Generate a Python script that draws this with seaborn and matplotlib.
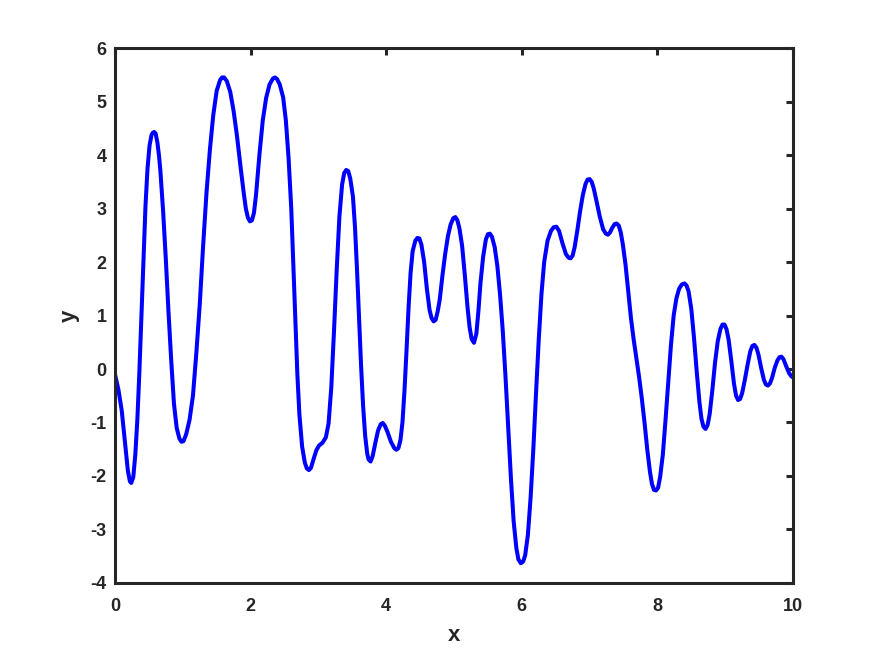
import matplotlib
matplotlib.use("Agg")
import matplotlib.pyplot as plt
import seaborn as sns
import pandas as pd

# Values
x_vals = [
    0.00, 0.05, 0.10, 0.15, 0.19, 0.22, 0.24, 0.27, 0.30, 0.33, 0.36, 0.39, 0.42, 0.45, 0.48,
    0.51, 0.54, 0.56, 0.58, 0.60, 0.625, 0.65, 0.67, 0.71, 0.75, 0.79, 0.83, 0.87, 0.91, 0.95,
    0.98, 1.01, 1.05,
    1.10, 1.15, 1.20, 1.25, 1.30, 1.35, 1.40, 1.45, 1.50, 1.55, 1.58, 1.61, 1.65, 1.70, 1.75,
    1.80, 1.85, 1.90, 1.93, 1.96, 1.99, 2.02, 2.05,
    2.08, 2.13, 2.18, 2.23, 2.28, 2.33, 2.36, 2.39, 2.43, 2.48, 2.52, 2.56, 2.60, 2.63, 2.66,
    2.69, 2.72, 2.76, 2.80, 2.83, 2.86, 2.89, 2.93, 2.97, 3.01, 3.06, 3.11, 3.15, 3.19, 3.23,
    3.27, 3.31, 3.35, 3.38, 3.41, 3.44, 3.47, 3.51, 3.54, 3.57, 3.60, 3.63, 3.66, 3.69, 3.72,
    3.74, 3.77, 3.80, 3.84, 3.88, 3.92, 3.95, 3.98,
    4.02, 4.07, 4.12, 4.15, 4.18, 4.21, 4.24, 4.27, 4.30, 4.33, 4.36, 4.39, 4.43, 4.46, 4.49,
    4.52, 4.56, 4.60, 4.64, 4.67, 4.70, 4.73, 4.76, 4.79, 4.83, 4.87, 4.91, 4.95, 4.99, 5.02,
    5.05, 5.08, 5.12, 5.16, 5.20, 5.23, 5.26, 5.295, 5.33, 5.36, 5.39, 5.43, 5.47, 5.50, 5.53,
    5.56, 5.60, 5.64, 5.68, 5.72, 5.76, 5.80, 5.84, 5.88, 5.92, 5.95, 5.985, 6.02, 6.05,
    6.09, 6.13, 6.17, 6.21, 6.25, 6.29, 6.33, 6.38, 6.43, 6.47, 6.51, 6.55, 6.60, 6.65, 6.69,
    6.72, 6.75, 6.78, 6.82, 6.86, 6.90, 6.94, 6.97, 7.00, 7.03, 7.06, 7.10, 7.15, 7.20, 7.24,
    7.27, 7.30, 7.33, 7.37, 7.40, 7.43, 7.46, 7.49, 7.53, 7.57, 7.61, 7.65, 7.69, 7.73, 7.77,
    7.81, 7.85, 7.89, 7.92, 7.95, 7.98, 8.01, 8.04,
    8.08, 8.12, 8.16, 8.20, 8.24, 8.28, 8.32, 8.36, 8.40, 8.43, 8.46, 8.50, 8.54, 8.58, 8.62,
    8.65, 8.68, 8.71, 8.74, 8.77, 8.81, 8.85, 8.89, 8.93, 8.96, 8.99, 9.02, 9.05, 9.09, 9.13,
    9.16, 9.19, 9.22, 9.25, 9.29, 9.33, 9.37, 9.40, 9.43, 9.46, 9.49, 9.53, 9.57, 9.60, 9.63,
    9.66, 9.69, 9.73, 9.77, 9.80, 9.83, 9.86, 9.90, 9.94, 9.97, 10.00,
]
y_vals = [
    -0.10, -0.38, -0.78, -1.40, -1.90, -2.10, -2.13, -2.02, -1.60, -0.95, -0.05, 1.00, 2.10, 3.05, 3.75,
    4.18, 4.38, 4.42, 4.43, 4.40, 4.24, 3.98, 3.70, 2.95, 2.05, 1.05, 0.15, -0.65, -1.10, -1.30,
    -1.36, -1.35, -1.22,
    -0.95, -0.50, 0.30, 1.20, 2.30, 3.30, 4.10, 4.75, 5.20, 5.40, 5.45, 5.45, 5.38, 5.18, 4.82,
    4.35, 3.80, 3.28, 3.00, 2.83, 2.76, 2.78, 2.92,
    3.25, 4.00, 4.65, 5.07, 5.32, 5.43, 5.45, 5.42, 5.32, 5.08, 4.65, 3.95, 3.00, 1.95, 0.90,
    -0.10, -0.85, -1.45, -1.75, -1.86, -1.89, -1.85, -1.68, -1.52, -1.43, -1.38, -1.28, -1.02, -0.35, 0.70,
    1.85, 2.85, 3.45, 3.66, 3.72, 3.70, 3.56, 3.22, 2.65, 1.85, 0.95, 0.05, -0.70, -1.25, -1.58,
    -1.69, -1.73, -1.63, -1.38, -1.15, -1.03, -1.01, -1.06,
    -1.18, -1.36, -1.48, -1.51, -1.48, -1.33, -1.00, -0.40, 0.35, 1.15, 1.80, 2.20, 2.40, 2.45, 2.44,
    2.32, 2.00, 1.50, 1.10, 0.95, 0.89, 0.92, 1.08, 1.30, 1.75, 2.15, 2.48, 2.70, 2.82, 2.84,
    2.78, 2.63, 2.30, 1.75, 1.15, 0.78, 0.56, 0.49, 0.66, 1.08, 1.60, 2.10, 2.42, 2.52, 2.53,
    2.47, 2.28, 1.92, 1.38, 0.70, -0.15, -1.10, -2.05, -2.85, -3.35, -3.56, -3.63, -3.60, -3.48,
    -3.10, -2.40, -1.50, -0.45, 0.55, 1.40, 2.00, 2.40, 2.58, 2.65, 2.66, 2.58, 2.35, 2.15, 2.08,
    2.07, 2.12, 2.28, 2.60, 2.95, 3.25, 3.46, 3.54, 3.55, 3.50, 3.38, 3.15, 2.85, 2.61, 2.53,
    2.51, 2.55, 2.63, 2.71, 2.72, 2.68, 2.55, 2.33, 1.95, 1.45, 0.95, 0.55, 0.20, -0.15, -0.55,
    -1.00, -1.50, -1.92, -2.15, -2.26, -2.27, -2.22, -2.02,
    -1.60, -0.95, -0.25, 0.45, 1.00, 1.32, 1.50, 1.58, 1.60, 1.56, 1.45, 1.12, 0.58, -0.05, -0.62,
    -0.93, -1.08, -1.12, -1.05, -0.85, -0.40, 0.12, 0.52, 0.75, 0.83, 0.83, 0.74, 0.55, 0.15, -0.28,
    -0.50, -0.58, -0.56, -0.45, -0.20, 0.08, 0.33, 0.43, 0.45, 0.40, 0.27, 0.02, -0.20, -0.29, -0.31,
    -0.27, -0.17, 0.02, 0.16, 0.22, 0.23, 0.18, 0.05, -0.07, -0.13, -0.16,
]
x_ticks = [0, 2, 4, 6, 8, 10]
y_ticks = [-4, -3, -2, -1, 0, 1, 2, 3, 4, 5, 6]
x_label = "x"
y_label = "y"

sns.set_style("white")
plt.rcParams["font.family"] = ["Liberation Sans", "DejaVu Sans"]

df = pd.DataFrame({"x": x_vals, "y": y_vals})

fig = plt.figure(figsize=(8.75, 6.56), dpi=100)
ax = fig.add_axes([0.1314, 0.1113, 0.7749, 0.8155])
sns.lineplot(data=df, x="x", y="y", ax=ax, color="#0000FF", linewidth=2.9,
             sort=False, estimator=None)

ax.set_xlim(0, 10)
ax.set_ylim(-4, 6)
ax.set_xticks(x_ticks)
ax.set_yticks(y_ticks)
ax.set_xticklabels([str(t) for t in x_ticks], fontweight="bold", fontsize=13)
ax.set_yticklabels([str(t) for t in y_ticks], fontweight="bold", fontsize=13)
ax.set_xlabel(x_label, fontweight="bold", fontsize=16, color="#262626", labelpad=7)
ax.set_ylabel(y_label, fontweight="bold", fontsize=16, color="#262626", labelpad=8)

edge = "#262626"
for s in ax.spines.values():
    s.set_visible(True)
    s.set_color(edge)
    s.set_linewidth(2.2)
ax.tick_params(axis="both", direction="in", length=5, width=2.2, color=edge,
               labelcolor=edge, top=True, right=True)
ax.tick_params(axis="x", pad=11)
ax.tick_params(axis="y", pad=6)
ax.grid(False)

fig.savefig("out.png", dpi=100, facecolor="white")
